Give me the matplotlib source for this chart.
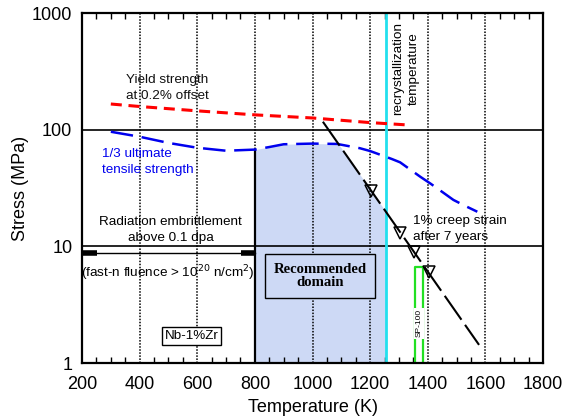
import numpy as np
import matplotlib
matplotlib.use('Agg')
import matplotlib.pyplot as plt
from matplotlib.ticker import FixedLocator, MultipleLocator, NullLocator, FixedFormatter

plt.rcParams['font.family'] = ['Liberation Sans', 'DejaVu Sans']

# Data

# yield strength at 0.2% offset (red dashed)
yield_T = [300, 400, 600, 800, 1000, 1200, 1325]
yield_S = [166, 158, 145, 134, 126, 115, 110]

# 1/3 ultimate tensile strength (blue dashed)
uts_T = [300, 400, 500, 600, 700, 800, 850, 900, 1000, 1085, 1165, 1200, 1275, 1304,
         1374, 1408, 1450, 1489, 1530, 1572]
uts_S = [96, 87, 77, 70, 66, 67.5, 71, 75, 76, 75.5, 69.3, 65.6, 56.1, 52.5,
         39.5, 34.7, 29.3, 25, 22.2, 19.8]

# 1% creep strain after 7 years (black line + triangles)
creep_T = [1036, 1578]
creep_S = [117, 1.43]
creep_pts_T = [1203, 1302, 1353, 1403]
creep_pts_S = [30, 12.9, 9.0, 6.07]

# limits
recryst_T = 1256
embrittle_T = [200, 800]
embrittle_S = 8.8
sp100_T = [1354, 1385]
sp100_S = 6.7

x_ticks = [200, 400, 600, 800, 1000, 1200, 1400, 1600, 1800]
y_ticks = [1, 10, 100, 1000]
y_labels = ['1', '10', '100', '1000']

fig = plt.figure(figsize=(5.66, 4.2), dpi=100)
ax = fig.add_axes([0.1449, 0.1357, 0.8145, 0.8333])
ax.set_yscale('log')
ax.set_xlim(200, 1800)
ax.set_ylim(1, 1000)

# recommended domain shading: under the lower of UTS/3 and creep curves
fill_T = np.linspace(embrittle_T[1], recryst_T, 300)
uts_log = np.interp(fill_T, uts_T, np.log10(uts_S))
creep_log = np.interp(fill_T, creep_T, np.log10(creep_S), left=10)
top = 10 ** np.minimum(uts_log, creep_log)
ax.fill_between(fill_T, 1, top, color='#cdd9f5', lw=0, zorder=0.5)

# grid lines
for x in [400, 600, 800, 1000, 1200, 1400, 1600]:
    ax.axvline(x, color='k', ls=(0, (1, 1)), lw=1.1, zorder=1)
for y in [10, 100]:
    ax.axhline(y, color='k', lw=1.2, zorder=1)
ax.plot([800, 800], [1, 10 ** np.interp(800, uts_T, np.log10(uts_S))], color='k', lw=1.6, zorder=2)

# recrystallization temperature
ax.axvline(recryst_T, color='#22e0ee', lw=2, zorder=3)

# curves
ax.plot(yield_T, yield_S, color='red', lw=2.2, ls=(0, (3.6, 2.2)), zorder=4)
ax.plot(uts_T, uts_S, color='#0000ee', lw=1.8, ls=(0, (9, 3.5)), zorder=4)
ax.plot(creep_T, creep_S, color='k', lw=1.5, ls=(0, (14, 3)), zorder=4)
ax.plot(creep_pts_T, creep_pts_S, ls='none', marker='v', ms=8, mfc='none',
        mec='k', mew=1.1, zorder=5)

# radiation embrittlement arrow
ax.plot(embrittle_T, [embrittle_S] * 2, color='k', lw=1, zorder=4)
ax.plot([embrittle_T[0], embrittle_T[0] + 52], [embrittle_S] * 2, color='k', lw=4,
        solid_capstyle='butt', zorder=4)
ax.plot([embrittle_T[1] - 48, embrittle_T[1]], [embrittle_S] * 2, color='k', lw=4,
        solid_capstyle='butt', zorder=4)

# SP-100 window
ax.plot([sp100_T[0], sp100_T[0], sp100_T[1], sp100_T[1]], [1, sp100_S, sp100_S, 1],
        color='#22e022', lw=1.6, zorder=4)
ax.text(np.mean(sp100_T), 2.2, 'SP-100', rotation=90, ha='center', va='center',
        fontsize=6, zorder=6, bbox=dict(facecolor='white', edgecolor='none', pad=1))

# annotations
fs = 9.7
ls = 1.4
ax.text(495, 228, 'Yield strength\nat 0.2% offset', ha='center', va='center',
        fontsize=fs, color='#111111', linespacing=ls, zorder=6)
ax.text(268, 53, '1/3 ultimate\ntensile strength', ha='left', va='center',
        fontsize=fs, color='#0000ee', linespacing=ls, zorder=6)
ax.text(508, 13.8, 'Radiation embrittlement\nabove 0.1 dpa', ha='center', va='center',
        fontsize=fs, linespacing=ls, zorder=6)
ax.text(499, 5.9, '(fast-n fluence > 10$^{20}$ n/cm$^{2}$)', ha='center', va='center',
        fontsize=fs, zorder=6)
ax.text(1349, 14, '1% creep strain\nafter 7 years', ha='left', va='center',
        fontsize=fs, linespacing=ls, zorder=6)
ax.text(1325, 336, 'recrystallization\ntemperature', rotation=90, ha='center', va='center',
        fontsize=fs, linespacing=ls, zorder=6)
ax.text(581, 1.71, 'Nb-1%Zr', ha='center', va='center', fontsize=fs, zorder=6,
        bbox=dict(boxstyle='square,pad=0.2', facecolor='white', edgecolor='k', lw=1))
ax.text(1026, 5.57, 'Recommended\ndomain', ha='center', va='center', fontsize=10.6,
        family='Liberation Serif', weight='bold', linespacing=1.05, zorder=6,
        bbox=dict(boxstyle='square,pad=0.6', facecolor='#cdd9f5', edgecolor='k', lw=1))

# axes styling
ax.xaxis.set_major_locator(FixedLocator(x_ticks))
ax.xaxis.set_minor_locator(MultipleLocator(50))
ax.yaxis.set_major_locator(FixedLocator(y_ticks))
ax.yaxis.set_major_formatter(FixedFormatter(y_labels))
ax.yaxis.set_minor_locator(NullLocator())
ax.tick_params(axis='x', which='both', direction='in', top=True, labelsize=13, pad=9)
ax.tick_params(axis='x', which='major', length=0)
ax.tick_params(axis='x', which='minor', length=4, width=1)
ax.tick_params(axis='y', which='major', length=0, labelsize=13, pad=7)
for s in ax.spines.values():
    s.set_linewidth(1.6)
    s.set_zorder(7)

ax.set_xlabel('Temperature (K)', fontsize=13, labelpad=5)
ax.set_ylabel('Stress (MPa)', fontsize=13, labelpad=2)

fig.savefig('out.png', dpi=100)
